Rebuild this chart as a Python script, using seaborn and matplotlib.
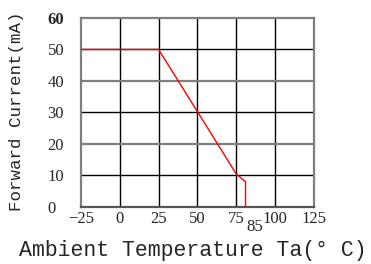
import matplotlib
matplotlib.use("Agg")
import matplotlib.pyplot as plt
import seaborn as sns
import pandas as pd
import numpy as np

# derating curve
temp_c = [-25, 25, 50, 75, 81, 81]
current_ma = [50, 50, 30.3, 10.5, 8, 0]

x_ticks = [-25, 0, 25, 50, 75, 100, 125]
y_ticks = [0, 10, 20, 30, 40, 50, 60]

df = pd.DataFrame({"Ta": temp_c, "If": current_ma})

sns.set_style("white")
plt.rcParams['font.family'] = ['Liberation Serif', 'DejaVu Serif']

fig = plt.figure(figsize=(3.71, 2.64), dpi=100)
ax = fig.add_axes([0.218, 0.216, 0.628, 0.716])

sns.lineplot(data=df, x="Ta", y="If", sort=False, estimator=None, color="red",
             linewidth=1.0, ax=ax, zorder=5)

ax.set_xlim(-25, 125)
ax.set_ylim(0, 60)
ax.set_xticks(x_ticks)
ax.set_yticks(y_ticks)
ax.set_xticklabels([str(t).replace("-", "\u2212") for t in x_ticks], fontsize=12)
ax.set_yticklabels([str(t) for t in y_ticks], fontsize=12, ha="left")
ax.get_yticklabels()[-1].set_fontweight("bold")
ax.tick_params(axis="y", length=0, pad=24)
ax.tick_params(axis="x", length=0, pad=3)

# grid: verticals black, horizontals alternate grey / black
for t in x_ticks[1:-1]:
    ax.axvline(t, color="black", linewidth=1.0, zorder=1)
for t in y_ticks[1:-1]:
    c = "black" if t % 20 else "#7f7f7f"
    lw = 1.0 if t % 20 else 1.6
    ax.axhline(t, color=c, linewidth=lw, zorder=1)

for s in ax.spines.values():
    s.set_visible(True)
    s.set_color("#7f7f7f")
    s.set_linewidth(1.6)
ax.spines["bottom"].set_color("#555555")

ax.set_xlabel("")
ax.set_ylabel("")
fig.text(0.045, 0.58, "Forward Current(mA)", rotation=90, ha="center", va="center",
         family="Liberation Mono", fontsize=12.6)
fig.text(0.52, 0.053, "Ambient Temperature Ta(\u00b0 C)", ha="center", va="center",
         family="Liberation Mono", fontsize=15.5)
fig.text(0.687, 0.14, "85", ha="center", va="center", fontsize=12)

fig.savefig("out.png", dpi=100)
